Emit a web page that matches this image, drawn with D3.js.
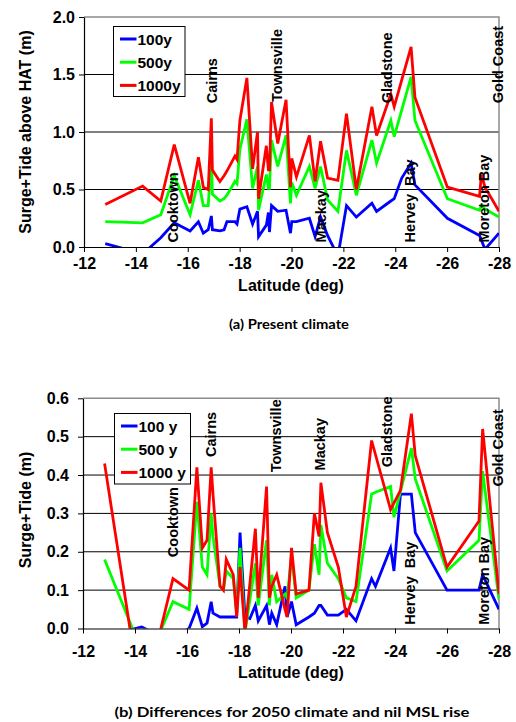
<!DOCTYPE html>
<html>
<head>
<meta charset="utf-8">
<script src="https://cdn.jsdelivr.net/npm/d3@7"></script>
<style>
  body { margin: 0; background: #fff; }
  svg { display: block; }
  .tick text { font-family: Arial, 'Liberation Sans', sans-serif; font-weight: bold; font-size: 16px; fill: #000; }
</style>
</head>
<body>
<svg class="surge" width="516" height="722"></svg>
<script>
// (a) present climate - latitude and surge+tide above HAT for each return period
const latA = [-12.82, -14.26, -14.96, -15.48, -16.09, -16.41, -16.60, -16.79, -16.91, -16.95,
  -17.24, -17.40, -17.51, -17.82, -17.90, -18.01, -18.28, -18.50, -18.69, -18.73,
  -19.03, -19.11, -19.15, -19.23, -19.47, -19.79, -19.96, -20.01, -20.19, -20.69,
  -20.91, -21.12, -21.39, -21.79, -22.12, -22.50, -23.10, -23.28, -23.83, -23.96,
  -24.25, -24.61, -24.76, -26.01, -27.25, -27.32, -27.46, -28.00];
const a100 = [0.03, -0.06, 0.08, 0.21, 0.14, 0.22, 0.12, 0.15, 0.27, 0.15,
  0.14, 0.15, 0.22, 0.22, 0.20, 0.33, 0.35, 0.20, 0.31, 0.09,
  0.19, 0.30, 0.13, 0.36, 0.31, 0.32, 0.12, 0.22, 0.22, 0.25,
  0.09, 0.26, 0.10, -0.08, 0.36, 0.26, 0.38, 0.31, 0.40, 0.42,
  0.60, 0.73, 0.54, 0.25, 0.10, 0.06, -0.02, 0.12];
const a500 = [0.22, 0.21, 0.28, 0.62, 0.28, 0.58, 0.36, 0.36, 0.80, 0.46,
  0.40, 0.42, 0.45, 0.57, 0.55, 0.85, 1.11, 0.51, 0.70, 0.32,
  0.63, 0.51, 0.51, 0.93, 0.70, 0.97, 0.38, 0.56, 0.45, 0.70,
  0.51, 0.70, 0.41, 0.31, 0.84, 0.45, 0.93, 0.73, 1.10, 0.96,
  null, 1.48, 1.10, 0.42, 0.32, 0.36, 0.33, 0.26];
const a1000 = [0.37, 0.53, 0.40, 0.89, 0.38, 0.78, 0.52, 0.50, 1.12, 0.67,
  0.57, 0.62, 0.66, 0.79, 0.76, 1.10, 1.47, 0.68, 1.00, 0.42,
  0.88, 0.67, 0.67, 1.26, 0.90, 1.28, 0.52, 0.77, 0.61, 0.97,
  0.57, 0.92, 0.60, 0.58, 1.16, 0.50, 1.22, 0.97, 1.33, 1.22,
  null, 1.74, 1.30, 0.52, 0.44, 0.63, 0.52, 0.31];

// (b) 2050 climate minus present, nil MSL rise
const latB = [-12.83, -14.26, -14.96, -15.46, -16.08, -16.38, -16.59, -16.77, -16.93, -17.00,
  -17.27, -17.40, -17.51, -17.78, -17.91, -18.04, -18.23, -18.42, -18.63, -18.74,
  -19.06, -19.17, -19.26, -19.45, -19.77, -19.85, -20.02, -20.20, -20.69, -20.90,
  -21.08, -21.15, -21.40, -21.82, -22.13, -22.50, -23.10, -23.25, -23.83, -23.96,
  -24.21, -24.63, -24.78, -26.00, -27.23, -27.37, -28.00];
const b100 = [-0.02, 0.004, -0.02, -0.02, 0.00, 0.053, 0.005, 0.014, 0.07, 0.04,
  0.03, 0.03, 0.03, 0.03, 0.03, 0.25, 0.03, 0.026, 0.06, 0.02,
  0.06, 0.01, 0.04, 0.01, 0.11, 0.03, 0.07, 0.01, 0.03, 0.04,
  0.06, 0.06, 0.035, 0.035, 0.05, 0.02, 0.13, 0.11, 0.21, 0.15,
  0.35, 0.35, 0.25, 0.10, 0.10, 0.14, 0.05];
const b500 = [0.18, -0.06, -0.01, 0.07, 0.05, 0.33, 0.16, 0.14, 0.30, 0.24,
  0.11, 0.10, 0.15, 0.13, 0.04, 0.21, -0.01, null, 0.17, 0.06,
  0.23, 0.06, 0.14, 0.07, 0.09, 0.08, 0.19, 0.08, 0.10, 0.22,
  0.14, 0.27, 0.17, 0.13, 0.08, 0.07, 0.35, 0.355, 0.37, 0.29,
  null, 0.47, 0.39, 0.15, 0.23, 0.41, 0.075];
const b1000 = [0.43, -0.20, -0.01, 0.13, 0.10, 0.42, 0.21, 0.23, 0.42, 0.35,
  0.11, 0.10, 0.18, 0.14, 0.03, 0.16, -0.01, null, 0.26, 0.08,
  0.37, 0.08, 0.11, 0.14, 0.05, 0.03, 0.21, 0.09, 0.10, 0.30,
  0.24, 0.38, 0.25, 0.16, 0.03, 0.11, 0.49, null, 0.31, null,
  0.36, 0.56, 0.45, 0.16, 0.28, 0.52, 0.09];

// place names along the coast, and the value where each label starts
const placeNames = ['Cooktown', 'Cairns', 'Townsville', 'Mackay', 'Gladstone', 'Hervey  Bay', 'Moreton Bay', 'Gold Coast'];
const placeLat = [-15.44, -16.92, -19.43, -21.12, -23.69, -24.57, -27.43, -27.97];
const placeStartA = [0.04, 1.25, 1.26, 0.04, 1.25, 0.04, 0.04, 1.25];
const placeStartB = [0.186, 0.447, 0.407, 0.412, 0.42, 0.01, 0.01, 0.37];

const latTicks = [-12, -14, -16, -18, -20, -22, -24, -26, -28];
const ticksA = [0, 0.5, 1.0, 1.5, 2.0];
const ticksB = [0, 0.1, 0.2, 0.3, 0.4, 0.5, 0.6];
const legendA = ['100y', '500y', '1000y'];
const legendB = ['100 y', '500 y', '1000 y'];
const seriesCols = ['#0000ff', '#00ff00', '#ff0000'];

const svg = d3.select('svg.surge');
const fontAx = "Arial, 'Liberation Sans', sans-serif";

function drawPanel(opts){
  const x = d3.scaleLinear().domain([-12, -28]).range(opts.xr);
  const y = d3.scaleLinear().domain(opts.yd).range(opts.yr);
  const g = svg.append('g').attr('class', opts.id);
  const [x0, x1] = opts.xr;
  const [yb, yt] = opts.yr;

  // gridlines
  g.selectAll('line.grid')
    .data(opts.yTicks.filter(d => d > 0 && d < opts.yd[1]))
    .enter()
    .append('line')
    .attr('class', 'grid')
    .attr('x1', x0).attr('x2', x1)
    .attr('y1', d => y(d)).attr('y2', d => y(d))
    .style('stroke', '#000')
    .style('stroke-width', 1);

  // plot area border (top, right)
  g.append('path')
    .attr('d', `M${x0},${yt}H${x1}V${yb}`)
    .style('fill', 'none')
    .style('stroke', '#8c8c8c')
    .style('stroke-width', 1.5);

  // series
  const clipId = 'clip-' + opts.id;
  g.append('clipPath').attr('id', clipId)
    .append('rect')
    .attr('x', x0).attr('y', yt)
    .attr('width', x1 - x0).attr('height', yb - yt);

  const line = d3.line().x(d => x(d[0])).y(d => y(d[1]));
  opts.series.forEach((vals, i) => {
    const pts = opts.lat.map((l, j) => [l, vals[j]]).filter(d => d[1] != null);
    g.append('path')
      .attr('clip-path', `url(#${clipId})`)
      .attr('d', line(pts))
      .style('fill', 'none')
      .style('stroke', seriesCols[i])
      .style('stroke-width', 2.8)
      .style('stroke-linejoin', 'miter');
  });

  // axes
  const xAxis = g.append('g')
    .attr('transform', `translate(0, ${yb})`)
    .call(d3.axisBottom(x).tickValues(latTicks).tickSize(5).tickSizeOuter(0)
      .tickPadding(opts.xPad).tickFormat(d => String(d)));
  const yAxis = g.append('g')
    .attr('transform', `translate(${x0}, 0)`)
    .call(d3.axisLeft(y).tickValues(opts.yTicks).tickSize(5).tickSizeOuter(0)
      .tickPadding(opts.yPad).tickFormat(d3.format('.1f')));
  [xAxis, yAxis].forEach(a => {
    a.select('.domain').style('stroke', '#000').style('stroke-width', 1.2);
    a.selectAll('.tick line').style('stroke', '#000');
  });

  // place labels, rotated
  placeNames.forEach((nm, i) => {
    g.append('text')
      .attr('transform', `translate(${x(placeLat[i])}, ${y(opts.placeStart[i])}) rotate(-90)`)
      .attr('dy', '0.36em')
      .text(nm)
      .style('font-family', fontAx)
      .style('font-weight', 'bold')
      .style('font-size', '14.5px')
      .style('white-space', 'pre');
  });

  // legend
  const lg = g.append('g').attr('transform', `translate(${opts.leg[0]}, ${opts.leg[1]})`);
  lg.append('rect')
    .attr('width', opts.leg[2]).attr('height', opts.leg[3])
    .style('fill', '#fff').style('stroke', '#000').style('stroke-width', 1);
  opts.legText.forEach((t, i) => {
    const ly = 12.5 + i * 23.2;
    lg.append('line')
      .attr('x1', 6.5).attr('x2', 23).attr('y1', ly).attr('y2', ly)
      .style('stroke', seriesCols[i]).style('stroke-width', 3);
    lg.append('text')
      .attr('x', 24).attr('y', ly + 5.5)
      .text(t)
      .style('font-family', fontAx)
      .style('font-weight', 'bold')
      .style('font-size', '15.5px');
  });

  // axis titles
  g.append('text')
    .attr('x', 291).attr('y', opts.xTitleY)
    .attr('text-anchor', 'middle')
    .text('Latitude (deg)')
    .style('font-family', fontAx).style('font-weight', 'bold').style('font-size', '16px');
  g.append('text')
    .attr('transform', `translate(31, ${opts.yTitleY}) rotate(-90)`)
    .attr('text-anchor', 'middle')
    .text(opts.yTitle)
    .style('font-family', fontAx).style('font-weight', 'bold').style('font-size', '16px');

  // caption
  g.append('text')
    .attr('x', opts.cap[0]).attr('y', opts.cap[1])
    .attr('text-anchor', 'middle')
    .attr('textLength', opts.cap[2])
    .attr('lengthAdjust', 'spacingAndGlyphs')
    .text(opts.caption)
    .style('font-family', "Lato, 'Open Sans', sans-serif")
    .style('font-weight', 'bold')
    .style('font-size', '14px');
}

drawPanel({
  id: 'panelA', lat: latA, series: [a100, a500, a1000],
  xr: [84, 499], yd: [0, 2], yr: [247, 17], yTicks: ticksA,
  xPad: 6, yPad: 4, placeStart: placeStartA,
  leg: [113.5, 26.5, 71.5, 70], legText: legendA,
  xTitleY: 291, yTitle: 'Surge+Tide above HAT (m)', yTitleY: 132,
  caption: '(a) Present climate', cap: [289, 329, 120]
});

drawPanel({
  id: 'panelB', lat: latB, series: [b100, b500, b1000],
  xr: [83, 499], yd: [0, 0.6], yr: [628.5, 398.3], yTicks: ticksB,
  xPad: 12, yPad: 9, placeStart: placeStartB,
  leg: [114.5, 413.5, 76, 70.5], legText: legendB,
  xTitleY: 678, yTitle: 'Surge+Tide (m)', yTitleY: 510,
  caption: '(b) Differences for 2050 climate and nil MSL rise', cap: [292, 717, 355]
});
</script>
</body>
</html>
